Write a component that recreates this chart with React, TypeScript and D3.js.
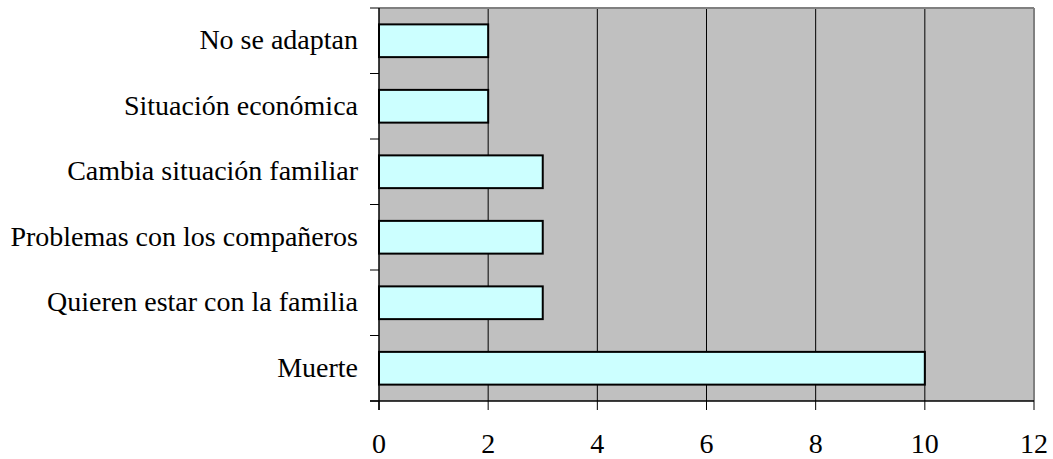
import React from "react";
import * as d3 from "d3";

const categories = [
  "No se adaptan",
  "Situación económica",
  "Cambia situación familiar",
  "Problemas con los compañeros",
  "Quieren estar con la familia",
  "Muerte",
];
const values = [2, 2, 3, 3, 3, 10];
const xTicks = [0, 2, 4, 6, 8, 10, 12];

const W = 1053;
const H = 459;
const margin = { top: 8, right: 19, bottom: 58, left: 379 };
const fontSize = 28;

export default function App() {
  const innerW = W - margin.left - margin.right;
  const innerH = H - margin.top - margin.bottom;
  const x = d3.scaleLinear().domain([0, 12]).range([0, innerW]);
  const y = d3.scaleBand<string>().domain(categories).range([0, innerH]).paddingInner(0.5).paddingOuter(0.25);
  const bounds = d3.range(categories.length + 1).map((i) => (innerH / categories.length) * i);

  return (
    <svg
      width={W}
      height={H}
      fontFamily="Times New Roman, Liberation Serif, serif"
      style={{ position: "absolute", left: 0, top: 0 }}
    >
      <g transform={`translate(${margin.left},${margin.top})`}>
        <rect x={0} y={0} width={innerW} height={innerH} fill="#c0c0c0" />
        {xTicks.slice(1, -1).map((t) => (
          <line key={t} x1={x(t)} x2={x(t)} y1={0} y2={innerH} stroke="#000" strokeWidth={1} />
        ))}
        <line x1={0} x2={innerW} y1={0} y2={0} stroke="#808080" strokeWidth={2} />
        <line x1={innerW} x2={innerW} y1={0} y2={innerH} stroke="#808080" strokeWidth={2} />
        {categories.map((c, i) => (
          <rect
            key={c}
            x={x(0)}
            y={y(c)}
            width={x(values[i]) - x(0)}
            height={y.bandwidth()}
            fill="#ccffff"
            stroke="#000"
            strokeWidth={2}
          />
        ))}
        {/* category axis */}
        <line x1={0} x2={0} y1={0} y2={innerH + 9} stroke="#000" strokeWidth={1.5} />
        {bounds.map((b, i) => (
          <line key={i} x1={-9} x2={0} y1={b} y2={b} stroke="#000" strokeWidth={1} />
        ))}
        {categories.map((c) => (
          <text
            key={c}
            x={-21}
            y={(y(c) as number) + y.bandwidth() / 2}
            dy="0.3em"
            textAnchor="end"
            fontSize={fontSize}
            fill="#000"
          >
            {c}
          </text>
        ))}
        {/* value axis */}
        <line x1={-9} x2={innerW} y1={innerH} y2={innerH} stroke="#000" strokeWidth={1.5} />
        {xTicks.map((t) => (
          <g key={t}>
            <line x1={x(t)} x2={x(t)} y1={innerH} y2={innerH + 9} stroke="#000" strokeWidth={1} />
            <text x={x(t)} y={innerH + 52} textAnchor="middle" fontSize={fontSize} fill="#000">
              {t}
            </text>
          </g>
        ))}
      </g>
    </svg>
  );
}
